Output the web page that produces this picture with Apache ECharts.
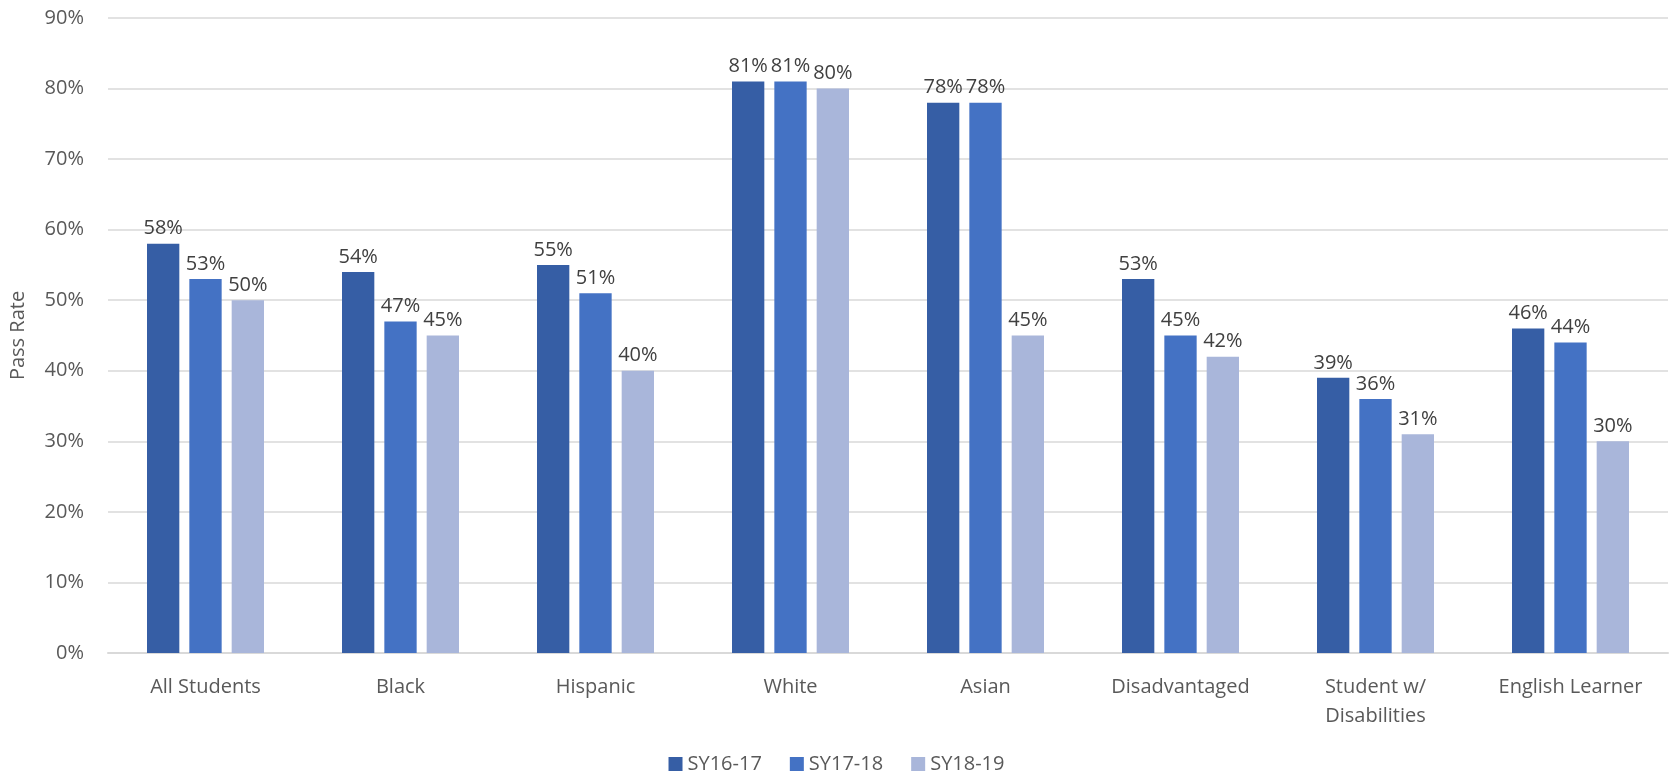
<!DOCTYPE html>
<html>
<head>
<meta charset="utf-8">
<script src="https://cdn.jsdelivr.net/npm/echarts@6/dist/echarts.min.js"></script>
<style>
  html, body { margin: 0; padding: 0; background: #fff; }
  #main { width: 1673px; height: 779px; }
</style>
</head>
<body>
<div id="main"></div>
<script>
// groups along the x axis
var categories = ['All Students', 'Black', 'Hispanic', 'White', 'Asian', 'Disadvantaged', 'Student w/\nDisabilities', 'English Learner'];
var yearNames = ['SY16-17', 'SY17-18', 'SY18-19'];
// pass rates in percent
var sy1617 = [58, 54, 55, 81, 78, 53, 39, 46];
var sy1718 = [53, 47, 51, 81, 78, 45, 36, 44];
var sy1819 = [50, 45, 40, 80, 45, 42, 31, 30];
var yTicks = [0, 10, 20, 30, 40, 50, 60, 70, 80, 90];

var FONT = 'Open Sans';
var FS = 20;
var colors = ['#365EA5', '#4472C4', '#A9B6DA'];

function makeSeries(name, data, i) {
    return {
        name: name,
        type: 'bar',
        data: data,
        barGap: '31%',
        barCategoryGap: '40%',
        itemStyle: {color: colors[i]},
        label: {
            show: true,
            position: 'top',
            distance: 5,
            formatter: '{c}%',
            color: '#404040',
            fontFamily: FONT,
            fontSize: FS
        }
    };
}

var myChart = echarts.init(document.getElementById('main'));
myChart.setOption({
    animation: false,
    textStyle: {fontFamily: FONT},
    grid: {
        left: 108,
        right: 5,
        top: 18,
        bottom: 126
    },
    legend: {
        bottom: 0,
        left: 'center',
        itemWidth: 14,
        itemHeight: 14,
        itemGap: 28,
        icon: 'rect',
        textStyle: {color: '#595959', fontSize: FS, fontFamily: FONT},
        data: yearNames
    },
    xAxis: {
        type: 'category',
        data: categories,
        axisLine: {lineStyle: {color: '#D9D9D9', width: 2}},
        axisTick: {show: false},
        axisLabel: {
            color: '#595959',
            fontSize: FS,
            fontFamily: FONT,
            margin: 20,
            lineHeight: 29,
            interval: 0
        }
    },
    yAxis: {
        type: 'value',
        min: yTicks[0],
        max: yTicks[yTicks.length - 1],
        interval: 10,
        name: 'Pass Rate',
        nameLocation: 'middle',
        nameGap: 80,
        nameTextStyle: {color: '#595959', fontSize: FS, fontFamily: FONT},
        axisLine: {show: false},
        axisTick: {show: false},
        axisLabel: {
            color: '#595959',
            fontSize: FS,
            fontFamily: FONT,
            margin: 24,
            formatter: '{value}%'
        },
        splitLine: {lineStyle: {color: '#D9D9D9', width: 1.5}}
    },
    series: [
        makeSeries(yearNames[0], sy1617, 0),
        makeSeries(yearNames[1], sy1718, 1),
        makeSeries(yearNames[2], sy1819, 2)
    ]
});
</script>
</body>
</html>
